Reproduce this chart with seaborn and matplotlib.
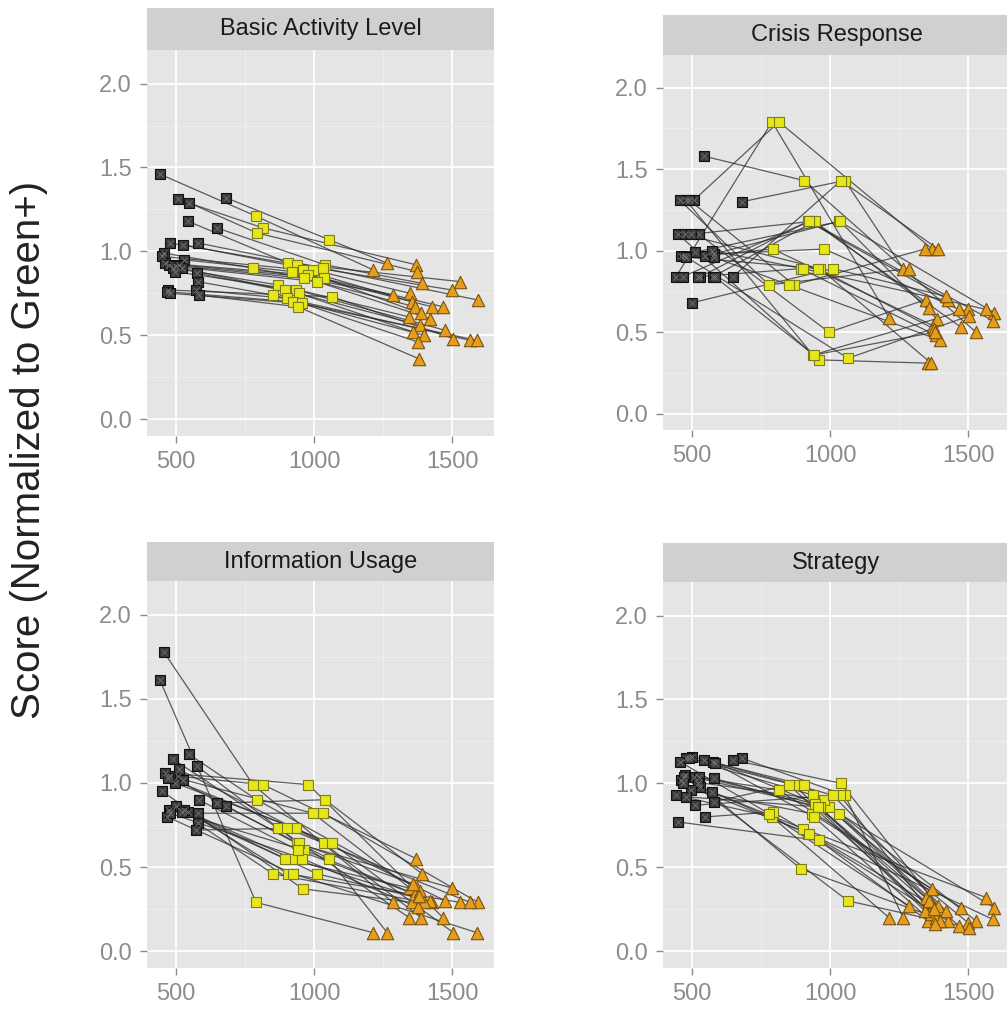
import matplotlib
matplotlib.use('Agg')
import matplotlib.pyplot as plt
import pandas as pd
import seaborn as sns

# facet names
panels = ['Basic Activity Level', 'Crisis Response', 'Information Usage', 'Strategy']

# x position of each subject for the three stages (same in every facet)
x_black = [442, 681, 507, 547, 543, 648, 478, 580, 525, 455, 450, 530, 460,
           475, 510, 500, 490, 520, 495, 576, 578, 471, 572, 466, 480, 582]
x_yellow = [790, 1054, 815, 793, 906, 1040, 938, 1033, 996, 779, 960, 920, 980,
            964, 1036, 1010, 870, 895, 935, 945, 851, 1065, 902, 925, 957, 942]
x_orange = [1214, 1265, 1370, 1373, 1529, 1391, 1500, 1594, 1348, 1286, 1355, 1428, 1467,
            1366, 1388, 1420, 1344, 1384, 1475, 1360, 1399, 1505, 1565, 1590, 1377, 1380]

# scores per facet, per stage
basic_black = [1.46, 1.32, 1.31, 1.29, 1.18, 1.14, 1.05, 1.05, 1.04, 0.99, 0.97, 0.95, 0.93,
               0.92, 0.92, 0.91, 0.90, 0.90, 0.88, 0.87, 0.82, 0.77, 0.77, 0.76, 0.75, 0.74]
basic_yellow = [1.21, 1.07, 1.14, 1.11, 0.93, 0.92, 0.92, 0.90, 0.89, 0.90, 0.89, 0.88, 0.86,
                0.84, 0.84, 0.82, 0.80, 0.77, 0.77, 0.75, 0.74, 0.73, 0.72, 0.70, 0.69, 0.67]
basic_orange = [0.89, 0.93, 0.92, 0.88, 0.82, 0.81, 0.77, 0.71, 0.75, 0.74, 0.70, 0.67, 0.67,
                0.67, 0.63, 0.60, 0.61, 0.56, 0.53, 0.52, 0.50, 0.48, 0.47, 0.47, 0.46, 0.36]

crisis_black = [0.84, 1.30, 1.31, 0.97, 1.58, 0.84, 1.31, 0.98, 1.10, 1.31, 1.10, 0.84, 0.97,
                1.10, 0.99, 0.68, 1.31, 0.84, 1.10, 0.84, 0.96, 0.97, 1.00, 0.84, 0.96, 0.84]
crisis_yellow = [1.79, 1.43, 1.79, 1.01, 1.43, 1.43, 0.36, 1.18, 0.50, 0.79, 0.33, 1.18, 1.01,
                 0.89, 1.18, 0.89, 0.79, 0.89, 1.18, 1.18, 0.79, 0.34, 0.89, 1.18, 0.89, 0.36]
crisis_orange = [0.59, 0.89, 1.01, 0.54, 0.50, 1.01, 0.64, 0.62, 0.70, 0.89, 0.31, 0.70, 0.64,
                 0.31, 0.58, 0.72, 1.01, 0.48, 0.53, 0.65, 0.45, 0.60, 0.64, 0.57, 0.52, 0.50]

info_black = [1.61, 0.86, 1.04, 1.17, 0.83, 0.88, 1.04, 0.82, 1.02, 1.78, 0.95, 0.84, 1.06,
              0.84, 1.08, 0.86, 1.14, 0.83, 1.00, 1.10, 0.76, 1.03, 0.72, 0.80, 0.82, 0.90]
info_yellow = [0.29, 0.55, 0.99, 0.90, 0.46, 0.90, 0.64, 0.82, 0.82, 0.99, 0.37, 0.55, 0.99,
               0.60, 0.64, 0.46, 0.73, 0.55, 0.73, 0.64, 0.46, 0.64, 0.73, 0.46, 0.55, 0.60]
info_orange = [0.11, 0.11, 0.55, 0.375, 0.29, 0.46, 0.375, 0.29, 0.375, 0.29, 0.29, 0.29, 0.20,
               0.34, 0.20, 0.30, 0.20, 0.36, 0.30, 0.40, 0.29, 0.11, 0.29, 0.11, 0.26, 0.33]

strat_black = [0.93, 1.15, 1.04, 0.80, 1.14, 1.14, 1.15, 1.03, 1.04, 1.13, 0.77, 0.98, 1.02,
               1.05, 0.87, 1.16, 1.15, 1.00, 0.96, 1.13, 0.89, 1.04, 0.95, 1.00, 0.92, 1.12]
strat_yellow = [0.80, 0.93, 0.96, 0.83, 0.99, 1.00, 0.93, 0.82, 0.86, 0.82, 0.66, 0.70, 0.90,
                0.86, 0.93, 0.93, 0.99, 0.49, 0.82, 0.88, 0.99, 0.30, 0.73, 0.70, 0.86, 0.80]
strat_orange = [0.20, 0.20, 0.37, 0.27, 0.18, 0.27, 0.17, 0.26, 0.32, 0.27, 0.18, 0.18, 0.15,
                0.22, 0.18, 0.24, 0.24, 0.20, 0.26, 0.30, 0.18, 0.14, 0.32, 0.19, 0.25, 0.16]

scores = {
    'Basic Activity Level': (basic_black, basic_yellow, basic_orange),
    'Crisis Response': (crisis_black, crisis_yellow, crisis_orange),
    'Information Usage': (info_black, info_yellow, info_orange),
    'Strategy': (strat_black, strat_yellow, strat_orange),
}

# long table: one row per subject and stage, stage order kept for the lines
rows = []
for p in panels:
    for s in range(len(x_black)):
        for stage, xs, ys in zip(['black', 'yellow', 'orange'],
                                 [x_black, x_yellow, x_orange], scores[p]):
            rows.append({'panel': p, 'subject': s, 'stage': stage, 'x': xs[s], 'score': ys[s]})
data = pd.DataFrame(rows)

sns.set_style('darkgrid')
plt.rcParams['font.family'] = ['Liberation Sans', 'DejaVu Sans']

W, H = 1007, 1013
fig = plt.figure(figsize=(W / 100, H / 100), dpi=100)

# pixel boxes: left, top of strip, top of plot, bottom of plot
boxes = {
    'Basic Activity Level': (147, 8, 50, 436),
    'Crisis Response': (663, 15, 55, 430),
    'Information Usage': (147, 542, 581, 968),
    'Strategy': (663, 543, 582, 968),
}
panel_w = 347

styles = {
    'black': dict(marker='s', s=48, color='#3a3a3a', edgecolor='#111111'),
    'yellow': dict(marker='s', s=55, color='#e6e619', edgecolor='#7d7d1e'),
    'orange': dict(marker='^', s=80, color='#e59e1c', edgecolor='#7a5210'),
}

for p in panels:
    left, strip_top, top, bottom = boxes[p]
    ax = fig.add_axes([left / W, 1 - bottom / H, panel_w / W, (bottom - top) / H])
    ax.set_facecolor('#e5e5e5')
    sub = data[data['panel'] == p]

    sns.lineplot(data=sub, x='x', y='score', units='subject', estimator=None,
                 sort=False, color='#2b2b2b', linewidth=0.9, alpha=0.75, ax=ax)
    for stage in ['black', 'yellow', 'orange']:
        st = styles[stage]
        sns.scatterplot(data=sub[sub['stage'] == stage], x='x', y='score',
                        marker=st['marker'], s=st['s'], color=st['color'],
                        edgecolor=st['edgecolor'], linewidth=0.8, zorder=3, ax=ax)
    # faint cross inside the black squares
    bl = sub[sub['stage'] == 'black']
    sns.scatterplot(data=bl, x='x', y='score', marker='x', s=18, color='#767676',
                    linewidth=0.6, zorder=4, ax=ax)

    ax.set_xlim(395, 1652)
    ax.set_ylim(-0.1, 2.2)
    ax.set_xticks([500, 1000, 1500])
    ax.set_yticks([0.0, 0.5, 1.0, 1.5, 2.0])
    ax.set_yticklabels(['0.0', '0.5', '1.0', '1.5', '2.0'])
    ax.set_xticks([750, 1250], minor=True)
    ax.set_yticks([0.25, 0.75, 1.25, 1.75], minor=True)
    ax.grid(which='major', color='white', linewidth=1.3)
    ax.grid(which='minor', color='#f0f0f0', linewidth=0.6)
    ax.tick_params(which='major', colors='#8c8c8c', labelsize=17, length=5, width=1,
                   labelcolor='#8c8c8c', bottom=True, left=True, pad=6)
    ax.tick_params(which='minor', length=0)
    ax.set_xlabel('')
    ax.set_ylabel('')
    for sp in ax.spines.values():
        sp.set_visible(False)

    strip = fig.add_axes([left / W, 1 - top / H, panel_w / W, (top - strip_top) / H])
    strip.set_facecolor('#d0d0d0')
    strip.set_xticks([])
    strip.set_yticks([])
    for sp in strip.spines.values():
        sp.set_visible(False)
    strip.text(0.5, 0.5, p, ha='center', va='center', fontsize=17,
               color='#1a1a1a', transform=strip.transAxes)

fig.text(0.029, 0.556, 'Score (Normalized to Green+)', rotation=90,
         ha='center', va='center', fontsize=29, color='#222222')

fig.savefig('out.png', dpi=100)
